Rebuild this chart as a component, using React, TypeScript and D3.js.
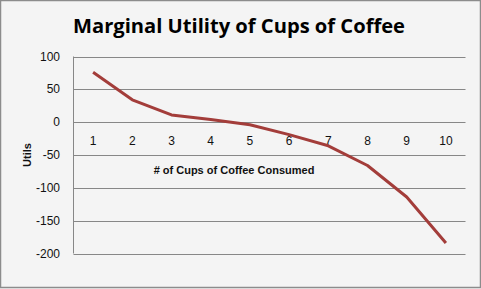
import React from "react";
import * as d3 from "d3";

const categories = ["1", "2", "3", "4", "5", "6", "7", "8", "9", "10"];
const utils = [76, 34, 11, 4, -4, -19, -36, -66, -114, -184];
const yTicks = [100, 50, 0, -50, -100, -150, -200];
const title = "Marginal Utility of Cups of Coffee";
const xTitle = "# of Cups of Coffee Consumed";
const yTitle = "Utils";

const W = 481;
const H = 289;
const left = 73.5;
const right = 465.5;
const top = 56.5;
const bottom = 253.5;

export default function App() {
  const x = d3.scaleBand<string>().domain(categories).range([left, right]);
  const y = d3.scaleLinear().domain([-200, 100]).range([bottom, top]);
  const line = d3
    .line<number>()
    .x((_, i) => (x(categories[i]) as number) + x.bandwidth() / 2)
    .y((d) => y(d));
  const font = "'Liberation Sans', Arial, sans-serif";
  return (
    <svg
      width={W}
      height={H}
      style={{ position: "absolute", left: 0, top: 0, display: "block" }}
    >
      <rect x={0} y={0} width={W} height={H} fill="#f4f4f4" />
      <rect x={0.5} y={0.5} width={W - 1} height={H - 2} fill="none" stroke="#8c8c8c" strokeWidth={1.5} />
      <text
        x={239}
        y={33}
        textAnchor="middle"
        fontFamily="'Open Sans', sans-serif"
        fontWeight="bold"
        fontSize={20}
        fill="#000"
        textLength={332}
        lengthAdjust="spacingAndGlyphs"
      >
        {title}
      </text>
      {yTicks.map((t) => (
        <g key={t}>
          <line x1={left} x2={right} y1={Math.round(y(t)) + 0.5} y2={Math.round(y(t)) + 0.5} stroke="#878787" strokeWidth={1} />
          <text x={60} y={y(t) + 4} textAnchor="end" fontFamily={font} fontSize={12} fill="#111">
            {t}
          </text>
        </g>
      ))}
      <line x1={left} x2={left} y1={top} y2={bottom} stroke="#878787" strokeWidth={1} />
      {categories.map((c) => (
        <text
          key={c}
          x={(x(c) as number) + x.bandwidth() / 2}
          y={y(0) + 23}
          textAnchor="middle"
          fontFamily={font}
          fontSize={12}
          fill="#111"
        >
          {c}
        </text>
      ))}
      <text x={234} y={174} textAnchor="middle" fontFamily={font} fontWeight="bold" fontSize={11} fill="#111">
        {xTitle}
      </text>
      <text
        transform={`translate(31,155) rotate(-90)`}
        textAnchor="middle"
        fontFamily={font}
        fontWeight="bold"
        fontSize={11}
        fill="#111"
      >
        {yTitle}
      </text>
      <path d={line(utils) || ""} fill="none" stroke="#a33d3a" strokeWidth={3} strokeLinejoin="round" />
    </svg>
  );
}
